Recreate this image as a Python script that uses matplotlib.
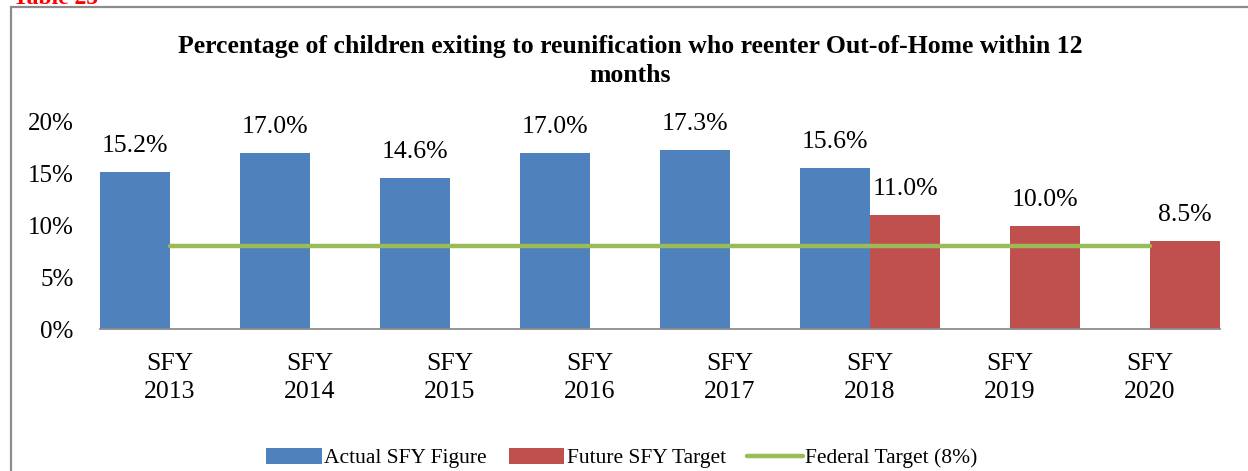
import matplotlib
matplotlib.use("Agg")
import matplotlib.pyplot as plt
from matplotlib.patches import Rectangle
import numpy as np

plt.rcParams['font.family'] = ['Liberation Serif', 'DejaVu Serif']

categories = ['SFY\n2013', 'SFY\n2014', 'SFY\n2015', 'SFY\n2016',
              'SFY\n2017', 'SFY\n2018', 'SFY\n2019', 'SFY\n2020']
actual = [15.2, 17.0, 14.6, 17.0, 17.3, 15.6, None, None]
target = [None, None, None, None, None, 11.0, 10.0, 8.5]
federal = [8, 8, 8, 8, 8, 8, 8, 8]
yticks = [0, 5, 10, 15, 20]

title = "Percentage of children exiting to reunification who reenter Out-of-Home within 12\nmonths"
series_names = ['Actual SFY Figure', 'Future SFY Target', 'Federal Target (8%)']

blue = '#4F81BD'
red = '#C0504D'
green = '#9BBB59'

W, H = 1248, 471
fig = plt.figure(figsize=(W / 100, H / 100), dpi=100)
ax = fig.add_axes([100 / W, 1 - 329 / H, 1120 / W, 207 / H])

x = np.arange(len(categories))
ax_idx = [i for i, v in enumerate(actual) if v is not None]
tg_idx = [i for i, v in enumerate(target) if v is not None]
bw = 0.5
b1 = ax.bar(x[ax_idx] - bw / 2, [actual[i] for i in ax_idx], width=bw,
            color=blue, label=series_names[0], linewidth=0)
b2 = ax.bar(x[tg_idx] + bw / 2, [target[i] for i in tg_idx], width=bw,
            color=red, label=series_names[1], linewidth=0)
ln, = ax.plot(x, federal, color=green, lw=3.2, solid_capstyle='round',
              label=series_names[2], zorder=3)

for bars in (b1, b2):
    for r in bars:
        h = r.get_height()
        ax.annotate(f"{h:.1f}%", (r.get_x() + r.get_width() / 2, h),
                    xytext=(0, 18.5), textcoords='offset points',
                    ha='center', va='center', fontsize=18.5, color='black')

ax.set_xlim(-0.5, len(categories) - 0.5)
ax.set_ylim(0, 20)
ax.set_yticks(yticks)
ax.set_yticklabels([f"{t}%" for t in yticks], fontsize=18)
ax.set_xticks(x)
ax.set_xticklabels(categories, fontsize=18.5, linespacing=1.38)
ax.tick_params(axis='y', length=0, pad=19)
ax.tick_params(axis='x', length=0, pad=17)
for s in ['top', 'right', 'left']:
    ax.spines[s].set_visible(False)
ax.spines['bottom'].set_color('#8c8c8c')
ax.spines['bottom'].set_linewidth(1.3)

fig.text(630 / W, 1 - 61 / H, title, ha='center', va='center',
         fontsize=18.5, fontweight='bold', linespacing=1.35)

leg = fig.legend(handles=[b1, b2, ln], labels=series_names, loc='center',
                 bbox_to_anchor=(622 / W, 1 - 458 / H), ncol=3, frameon=False,
                 fontsize=15.5, handlelength=2.6, handleheight=0.8,
                 handletextpad=0.1, columnspacing=1.0)

fig.text(13 / W, 1 - 4 / H, "Table 25", ha='left', va='baseline', color='red',
         fontsize=17, fontweight='bold')

fig.patches.append(Rectangle((11 / W, -0.1), 1.2, 1.1 - 7 / H,
                             transform=fig.transFigure, fill=False,
                             edgecolor='#8c8c8c', linewidth=1.6))

fig.savefig('out.png', dpi=100)
